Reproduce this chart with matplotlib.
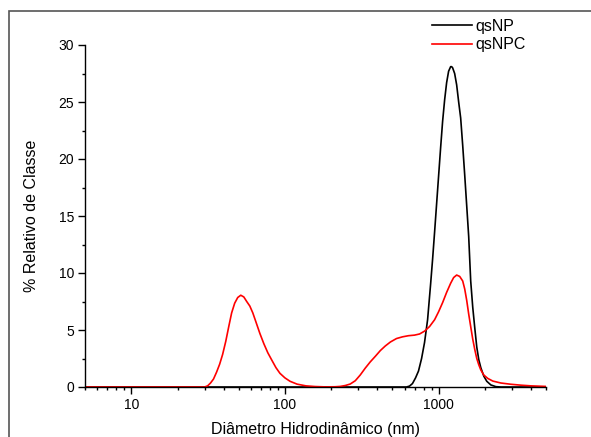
import matplotlib
matplotlib.use("Agg")
import matplotlib.pyplot as plt
from matplotlib.ticker import MultipleLocator, LogLocator, FixedLocator, FixedFormatter, NullFormatter
from matplotlib.patches import Rectangle

plt.rcParams['font.family'] = ['Liberation Sans', 'DejaVu Sans']

# qsNP (black)
np_size = [5, 618, 647, 676, 708, 740, 775, 810, 848, 887, 914, 942, 970, 1000,
           1031, 1062, 1095, 1128, 1162, 1198, 1216, 1234, 1272, 1311, 1351, 1392,
           1435, 1479, 1524, 1570, 1618, 1668, 1719, 1772, 1826, 1882, 1969, 2059,
           2188, 2358, 2543, 5000]
np_val = [0, 0, 0.08, 0.3, 0.8, 1.4, 2.5, 3.9, 5.9, 9.0, 11.2, 13.6, 16.0, 18.5,
          21.0, 23.3, 25.2, 26.7, 27.7, 28.1, 28.1, 28.0, 27.5, 26.5, 25.0, 23.6,
          21.2, 18.6, 15.9, 13.2, 9.3, 7.0, 5.2, 3.5, 2.4, 1.7, 0.95, 0.5,
          0.18, 0.03, 0, 0]

# qsNPC (red)
npc_size = [5, 30, 31.4, 32.8, 34.3, 35.9, 37.6, 39.3, 41.2, 43.1, 45.0, 47.1, 49.3,
            51.6, 54.0, 56.4, 59.1, 61.8, 64.6, 68.7, 72.9, 77.4, 82.2, 87.4, 92.8,
            100, 108, 120, 137, 157, 183, 212, 229, 247, 266, 287, 309, 333, 359,
            388, 418, 450, 486, 532, 582, 637, 697, 752, 810, 873, 942, 1000, 1062,
            1128, 1198, 1253, 1311, 1372, 1435, 1479, 1524, 1570, 1618, 1668, 1719,
            1772, 1826, 1882, 1969, 2091, 2254, 2543, 2955, 3435, 3994, 5000]
npc_val = [0, 0, 0.1, 0.35, 0.7, 1.3, 2.0, 2.85, 4.0, 5.3, 6.5, 7.35, 7.85,
           8.05, 7.9, 7.5, 7.1, 6.5, 5.75, 4.7, 3.8, 3.0, 2.35, 1.7, 1.2,
           0.8, 0.5, 0.25, 0.1, 0.04, 0.01, 0.02, 0.05, 0.13, 0.26, 0.55, 1.05, 1.65, 2.2,
           2.7, 3.2, 3.6, 3.95, 4.25, 4.4, 4.5, 4.55, 4.65, 4.9, 5.3, 5.9, 6.6, 7.4,
           8.3, 9.1, 9.6, 9.82, 9.7, 9.3, 8.6, 7.6, 6.4, 5.3, 4.2, 3.3,
           2.5, 1.95, 1.5, 1.05, 0.75, 0.52, 0.35, 0.24, 0.16, 0.1, 0.05]

x_ticks = [10, 100, 1000]
x_labels = ['10', '100', '1000']

fig = plt.figure(figsize=(5.91, 4.37), dpi=100)
ax = fig.add_axes([85/591, 50/437, (546-85)/591, (387-45)/437])

ax.plot(np_size, np_val, color='black', lw=1.2, label='qsNP')
ax.plot(npc_size, npc_val, color='red', lw=1.2, label='qsNPC')

ax.set_xscale('log')
ax.set_xlim(5, 5000)
ax.set_ylim(0, 30)

ax.xaxis.set_major_locator(FixedLocator(x_ticks))
ax.xaxis.set_major_formatter(FixedFormatter(x_labels))
ax.xaxis.set_minor_locator(LogLocator(base=10, subs=range(2, 10)))
ax.xaxis.set_minor_formatter(NullFormatter())
ax.yaxis.set_major_locator(MultipleLocator(5))
ax.yaxis.set_minor_locator(MultipleLocator(2.5))

for s in ['top', 'right']:
    ax.spines[s].set_visible(False)
for s in ['left', 'bottom']:
    ax.spines[s].set_linewidth(1.0)

ax.tick_params(which='major', direction='out', length=5, width=1.0, labelsize=10, pad=3)
ax.tick_params(which='minor', direction='out', length=2.5, width=1.0)

ax.set_xlabel('Diâmetro Hidrodinâmico (nm)', fontsize=11.5, labelpad=7)
ax.set_ylabel('% Relativo de Classe', fontsize=11.5, labelpad=14)

fig.legend(loc='upper left', bbox_to_anchor=(432/591, 1 - 19/437), frameon=False,
           fontsize=11.5, handlelength=2.5, handletextpad=0.2, labelspacing=0.2,
           borderpad=0, borderaxespad=0)

# outer frame (right and bottom edges fall outside the picture)
fig.patches.append(Rectangle((9/591, -0.2), 1.2, 1.2 - 11/437, transform=fig.transFigure,
                             fill=False, edgecolor='#555555', lw=1.2))

fig.savefig('out.png', dpi=100)
